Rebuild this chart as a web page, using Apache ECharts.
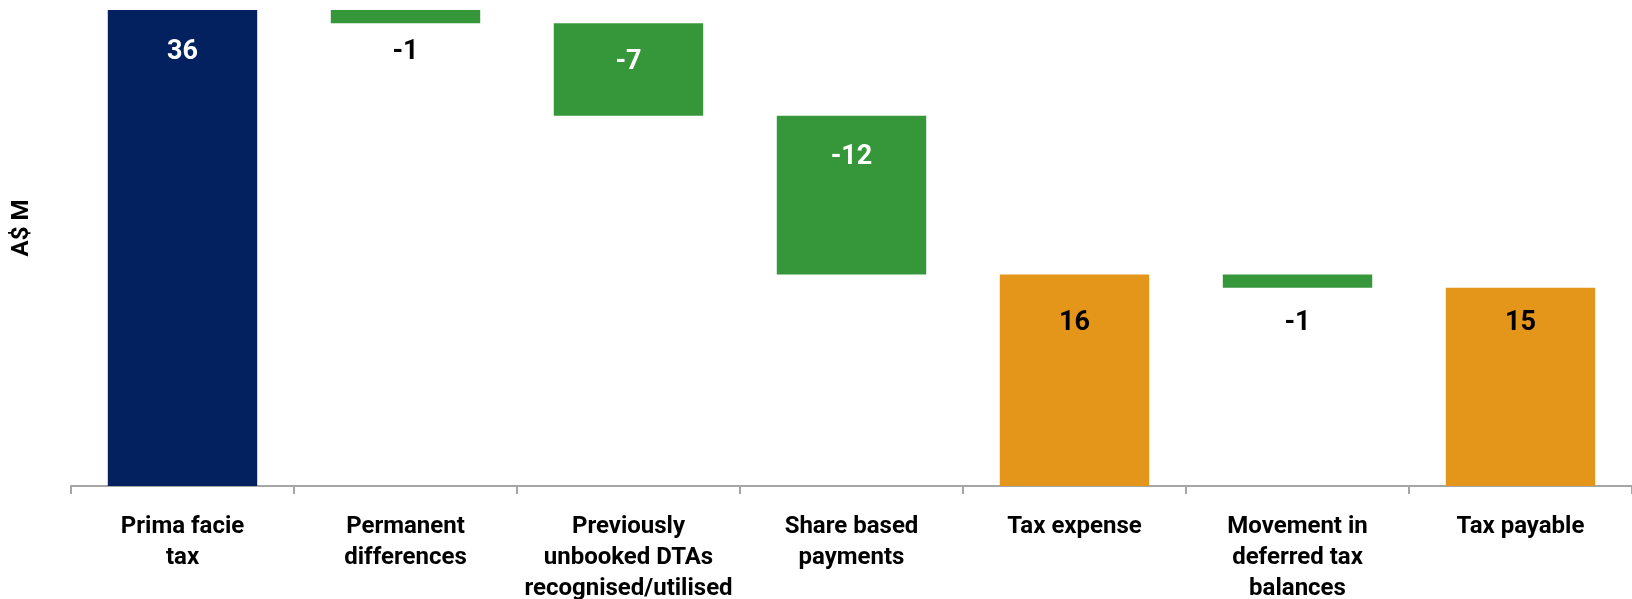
<!DOCTYPE html>
<html>
<head>
<meta charset="utf-8">
<title>Tax reconciliation</title>
<script src="https://cdn.jsdelivr.net/npm/echarts@6/dist/echarts.min.js"></script>
<style>
  html, body { margin: 0; padding: 0; background: #ffffff; }
  #chart { width: 1632px; height: 599px; }
</style>
</head>
<body>
<div id="chart"></div>
<script>
// Reconciliation steps, A$ M
const categories = [
  'Prima facie\ntax',
  'Permanent\ndifferences',
  'Previously\nunbooked DTAs\nrecognised/utilised',
  'Share based\npayments',
  'Tax expense',
  'Movement in\ndeferred tax\nbalances',
  'Tax payable'
];
const values = [36, -1, -7, -12, 16, -1, 15];
const kinds = ['total', 'delta', 'delta', 'delta', 'total', 'delta', 'total'];

// Colours for each kind of step
const NAVY = '#03215F';
const GREEN = '#359739';
const ORANGE = '#E4961A';

// Build the invisible base and visible segment of each waterfall step
const base = [];
const seg = [];
let running = 0;
values.forEach((v, i) => {
  if (kinds[i] === 'total') {
    base.push(0);
    seg.push(v);
    running = v;
  } else {
    const next = running + v;
    base.push(Math.min(running, next));
    seg.push(Math.abs(v));
    running = next;
  }
});

// Label placement below each bar's top edge
const labelDrop = [29, 29, 26, 28, 35, 35, 22];

function barColor(i) {
  if (kinds[i] === 'delta') return GREEN;
  return i === 0 ? NAVY : ORANGE;
}
function labelColor(i) {
  if (i === 0) return '#ffffff';
  if (kinds[i] === 'delta' && Math.abs(values[i]) >= 5) return '#ffffff';
  return '#000000';
}

const segData = seg.map((h, i) => ({
  value: h,
  itemStyle: { color: barColor(i) },
  label: {
    show: true,
    position: 'insideTop',
    distance: labelDrop[i],
    color: labelColor(i),
    formatter: String(values[i])
  }
}));

const chart = echarts.init(document.getElementById('chart'), null, { renderer: 'canvas' });
chart.setOption({
  animation: false,
  backgroundColor: '#ffffff',
  textStyle: { fontFamily: 'Roboto' },
  grid: {
    left: 71, right: 0, top: 10, bottom: 113,
    containLabel: false,
    outerBoundsMode: 'none'
  },
  xAxis: {
    type: 'category',
    data: categories,
    axisLine: { show: true, lineStyle: { color: '#A6A6A6', width: 2 } },
    axisTick: { show: true, length: 8, lineStyle: { color: '#A6A6A6', width: 2 } },
    axisLabel: {
      interval: 0,
      margin: 25,
      color: '#000000',
      fontFamily: 'Roboto',
      fontWeight: 'bold',
      fontSize: 24,
      lineHeight: 31,
      align: 'center'
    }
  },
  yAxis: {
    type: 'value',
    min: 0,
    max: 36,
    show: true,
    axisLine: { show: false },
    axisTick: { show: false },
    axisLabel: { show: false },
    splitLine: { show: false }
  },
  graphic: [{
    type: 'text',
    x: 22,
    y: 228,
    rotation: Math.PI / 2,
    style: {
      text: 'A$ M',
      fill: '#000000',
      font: 'bold 24px Roboto',
      align: 'center',
      verticalAlign: 'middle'
    }
  }],
  series: [
    {
      name: 'base',
      type: 'bar',
      stack: 'wf',
      barWidth: '67%',
      silent: true,
      itemStyle: { color: 'rgba(0,0,0,0)' },
      data: base
    },
    {
      name: 'step',
      type: 'bar',
      stack: 'wf',
      barWidth: '67%',
      label: {
        fontFamily: 'Roboto',
        fontWeight: 'bold',
        fontSize: 27,
        lineHeight: 27
      },
      data: segData
    }
  ]
});
</script>
</body>
</html>
